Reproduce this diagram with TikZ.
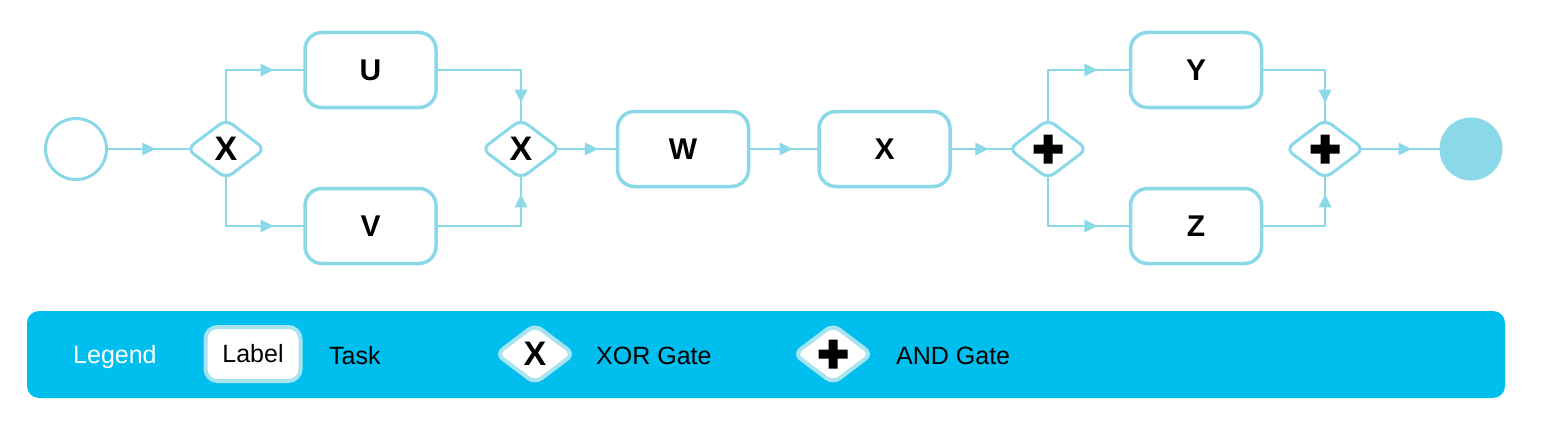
\documentclass[tikz,border=0pt]{standalone}
\usepackage{fontspec}
\setmainfont{Liberation Sans}
\usetikzlibrary{shapes.geometric,backgrounds}

\definecolor{flowblue}{HTML}{8AD8E8}
\definecolor{legendblue}{HTML}{00BFEE}
\definecolor{legendline}{HTML}{A8E4EF}

\tikzset{
    task/.style={draw=flowblue, line width=3.5pt, rounded corners=17pt, fill=white,
        minimum width=131pt, minimum height=75pt,
        font=\fontsize{30}{36}\selectfont\bfseries},
    gate/.style={diamond, draw=flowblue, line width=3pt, rounded corners=8pt, fill=white,
        minimum width=79pt, minimum height=60pt, inner sep=0pt,
        font=\fontsize{34}{40}\selectfont\bfseries},
    plus/.style={path picture={
        \fill[black, sharp corners, shift={(path picture bounding box.center)}]
            (-14.5pt,-4.5pt) rectangle (14.5pt,4.5pt)
            (-4.5pt,-14.5pt) rectangle (4.5pt,14.5pt);}},
    flow/.style={draw=flowblue, line width=1.6pt, shorten <=-5pt, shorten >=-5pt},
    tip/.style={isosceles triangle, isosceles triangle stretches, sloped, allow upside down,
        fill=flowblue, inner sep=0pt, minimum width=13pt, minimum height=13pt},
    legendtext/.style={font=\fontsize{25}{30}\selectfont, anchor=base west, inner sep=0pt},
}

\begin{document}
\begin{tikzpicture}[x=1pt, y=-1pt]
    \useasboundingbox (0,0) rectangle (1541,428);

    % process
    \node[circle, draw=flowblue, line width=3pt, fill=white, minimum size=61pt] (start) at (76,149) {};
    \node[gate] (xsplit) at (226,149) {X};
    \node[task] (u) at (370.5,70) {U};
    \node[task] (v) at (370.5,226) {V};
    \node[gate] (xjoin) at (521,149) {X};
    \node[task] (w) at (683,149) {W};
    \node[task] (tx) at (884.5,149) {X};
    \node[gate, plus] (asplit) at (1048,149) {};
    \node[task] (y) at (1196,70) {Y};
    \node[task] (z) at (1196,226) {Z};
    \node[gate, plus] (ajoin) at (1325,149) {};
    \node[circle, fill=flowblue, minimum size=63pt] (stop) at (1471,149) {};

    \begin{pgfonlayer}{background}
        \draw[flow] (start) -- node[tip]{} (xsplit);
        \draw[flow] (xsplit.north) |- node[tip, pos=0.75]{} (u.west);
        \draw[flow] (xsplit.south) |- node[tip, pos=0.75]{} (v.west);
        \draw[flow] (u.east) -| node[tip, pos=0.75]{} (xjoin.north);
        \draw[flow] (v.east) -| node[tip, pos=0.75]{} (xjoin.south);
        \draw[flow] (xjoin) -- node[tip]{} (w);
        \draw[flow] (w) -- node[tip]{} (tx);
        \draw[flow] (tx) -- node[tip]{} (asplit);
        \draw[flow] (asplit.north) |- node[tip, pos=0.75]{} (y.west);
        \draw[flow] (asplit.south) |- node[tip, pos=0.75]{} (z.west);
        \draw[flow] (y.east) -| node[tip, pos=0.75]{} (ajoin.north);
        \draw[flow] (z.east) -| node[tip, pos=0.75]{} (ajoin.south);
        \draw[flow] (ajoin) -- node[tip]{} (stop);
    \end{pgfonlayer}

    % legend
    \node[fill=legendblue, rounded corners=12pt, minimum width=1478pt, minimum height=87pt, inner sep=0pt] (legend) at (766,354.5) {};
    \node[legendtext, text=white] (legendtitle) at (73,363) {Legend};
    \node[task, draw=legendline, line width=4pt, rounded corners=12pt, minimum width=95pt, minimum height=54pt,
        font=\fontsize{25}{30}\selectfont] (lgtask) at (253,354) {Label};
    \node[legendtext] (lgtasktext) at (329,364) {Task};
    \node[gate, draw=legendline, line width=4pt] (lgxor) at (535,354) {X};
    \node[legendtext] (lgxortext) at (596,364) {XOR Gate};
    \node[gate, plus, draw=legendline, line width=4pt] (lgand) at (833,354) {};
    \node[legendtext] (lgandtext) at (896,364) {AND Gate};
\end{tikzpicture}
\end{document}
